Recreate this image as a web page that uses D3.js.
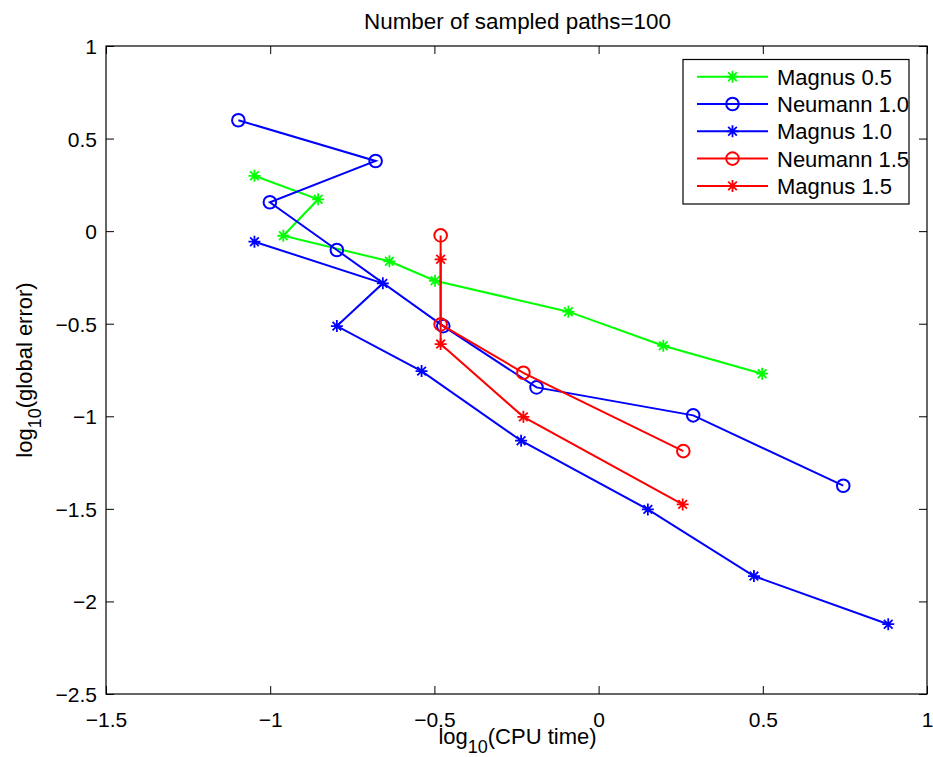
<!DOCTYPE html>
<html>
<head>
<meta charset="utf-8">
<script src="https://cdn.jsdelivr.net/npm/d3@7"></script>
<style>
  html, body { margin: 0; padding: 0; background: #fff; }
  svg { display: block; font-family: "Liberation Sans", Arial, Helvetica, sans-serif; }
</style>
</head>
<body>
<svg id="chart" width="933" height="757"></svg>
<script>
// ---- data ----
const titleText = "Number of sampled paths=100";
const xTicks = [-1.5, -1, -0.5, 0, 0.5, 1];
const yTicks = [-2.5, -2, -1.5, -1, -0.5, 0, 0.5, 1];

const magnus05X = [-1.048, -0.854, -0.960, -0.637, -0.498, -0.092, 0.197, 0.498];
const magnus05Y = [0.299, 0.172, -0.025, -0.163, -0.268, -0.435, -0.619, -0.770];

const neumann10X = [-1.097, -0.679, -1.001, -0.797, -0.473, -0.189, 0.288, 0.745];
const neumann10Y = [0.599, 0.379, 0.156, -0.102, -0.513, -0.844, -0.995, -1.375];

const magnus10X = [-1.048, -0.657, -0.797, -0.539, -0.236, 0.150, 0.473, 0.882];
const magnus10Y = [-0.057, -0.282, -0.513, -0.756, -1.132, -1.503, -1.863, -2.123];

const neumann15X = [-0.481, -0.481, -0.229, 0.258];
const neumann15Y = [-0.023, -0.504, -0.765, -1.188];

const magnus15X = [-0.481, -0.481, -0.229, 0.256];
const magnus15Y = [-0.152, -0.610, -1.003, -1.476];

const seriesNames = ["Magnus 0.5", "Neumann 1.0", "Magnus 1.0", "Neumann 1.5", "Magnus 1.5"];
const seriesColors = ["#00ff00", "#0000ff", "#0000ff", "#ff0000", "#ff0000"];
const seriesMarkers = ["star", "circle", "star", "circle", "star"];
const seriesX = [magnus05X, neumann10X, magnus10X, neumann15X, magnus15X];
const seriesY = [magnus05Y, neumann10Y, magnus10Y, neumann15Y, magnus15Y];

// ---- layout ----
const L = 106, T = 46, R = 927, B = 694;
const svg = d3.select("#chart");

const x = d3.scaleLinear().domain([-1.5, 1]).range([L, R]);
const y = d3.scaleLinear().domain([-2.5, 1]).range([B, T]);
const fmt = d3.format("");

// frame
svg.append("rect").attr("x", L).attr("y", T).attr("width", R - L).attr("height", B - T)
  .attr("fill", "none").attr("stroke", "#000").attr("stroke-width", 1.2);

// axes (inward ticks)
const gB = svg.append("g").attr("transform", `translate(0,${B})`)
  .call(d3.axisBottom(x).tickValues(xTicks).tickSize(-8).tickFormat(fmt));
const gT = svg.append("g").attr("transform", `translate(0,${T})`)
  .call(d3.axisTop(x).tickValues(xTicks).tickSize(-8).tickFormat(""));
const gL = svg.append("g").attr("transform", `translate(${L},0)`)
  .call(d3.axisLeft(y).tickValues(yTicks).tickSize(-8).tickFormat(fmt));
const gR = svg.append("g").attr("transform", `translate(${R},0)`)
  .call(d3.axisRight(y).tickValues(yTicks).tickSize(-8).tickFormat(""));

[gB, gT, gL, gR].forEach(g => {
  g.select(".domain").remove();
  g.selectAll(".tick line").attr("stroke", "#000").attr("stroke-width", 1);
  g.selectAll("text").attr("fill", "#000").style("font-size", "21px")
    .style("font-family", '"Liberation Sans", Arial, sans-serif');
});
gB.selectAll(".tick text").attr("y", 33).attr("dy", null);
gL.selectAll(".tick text").attr("x", -9).attr("dy", "0.36em");

// line + markers
const line = d3.line().x(d => x(d[0])).y(d => y(d[1]));
const starPath = (s) => {
  const d = s * 0.72;
  return `M${-s},0H${s}M0,${-s}V${s}M${-d},${-d}L${d},${d}M${-d},${d}L${d},${-d}`;
};

const plot = svg.append("g");
seriesNames.forEach((name, i) => {
  const pts = seriesX[i].map((v, j) => [v, seriesY[i][j]]);
  plot.append("path").datum(pts).attr("d", line)
    .attr("fill", "none").attr("stroke", seriesColors[i]).attr("stroke-width", 2);
  const mg = plot.append("g");
  pts.forEach(p => {
    if (seriesMarkers[i] === "circle") {
      mg.append("circle").attr("cx", x(p[0])).attr("cy", y(p[1])).attr("r", 6.3)
        .attr("fill", "none").attr("stroke", seriesColors[i]).attr("stroke-width", 2);
    } else {
      mg.append("path").attr("transform", `translate(${x(p[0])},${y(p[1])})`)
        .attr("d", starPath(6)).attr("fill", "none")
        .attr("stroke", seriesColors[i]).attr("stroke-width", 1.8);
    }
  });
});

// title
svg.append("text").attr("x", (L + R) / 2 + 1).attr("y", 29).attr("text-anchor", "middle")
  .style("font-size", "22.4px").attr("fill", "#000").text(titleText);

// x label
const xl = svg.append("text").attr("x", (L + R) / 2 + 1).attr("y", 744).attr("text-anchor", "middle")
  .style("font-size", "22px").attr("fill", "#000");
xl.append("tspan").text("log");
xl.append("tspan").attr("dy", 9).style("font-size", "18px").text("10");
xl.append("tspan").attr("dy", -9).text("(CPU time)");

// y label
const yl = svg.append("text").attr("transform", `translate(32,${(T + B) / 2}) rotate(-90)`)
  .attr("text-anchor", "middle").style("font-size", "22px").attr("fill", "#000");
yl.append("tspan").text("log");
yl.append("tspan").attr("dy", 9).style("font-size", "18px").text("10");
yl.append("tspan").attr("dy", -9).text("(global error)");

// legend
const lg = svg.append("g");
lg.append("rect").attr("x", 683).attr("y", 59.5).attr("width", 226).attr("height", 144.5)
  .attr("fill", "#fff").attr("stroke", "#000").attr("stroke-width", 1.2);
seriesNames.forEach((name, i) => {
  const cy = 76.7 + i * 27.3;
  lg.append("line").attr("x1", 697).attr("x2", 768).attr("y1", cy).attr("y2", cy)
    .attr("stroke", seriesColors[i]).attr("stroke-width", 2);
  if (seriesMarkers[i] === "circle") {
    lg.append("circle").attr("cx", 732.5).attr("cy", cy).attr("r", 6.3)
      .attr("fill", "none").attr("stroke", seriesColors[i]).attr("stroke-width", 2);
  } else {
    lg.append("path").attr("transform", `translate(732.5,${cy})`).attr("d", starPath(6))
      .attr("fill", "none").attr("stroke", seriesColors[i]).attr("stroke-width", 1.8);
  }
  lg.append("text").attr("x", 777).attr("y", cy + 8).style("font-size", "22px")
    .attr("fill", "#000").text(name);
});
</script>
</body>
</html>
